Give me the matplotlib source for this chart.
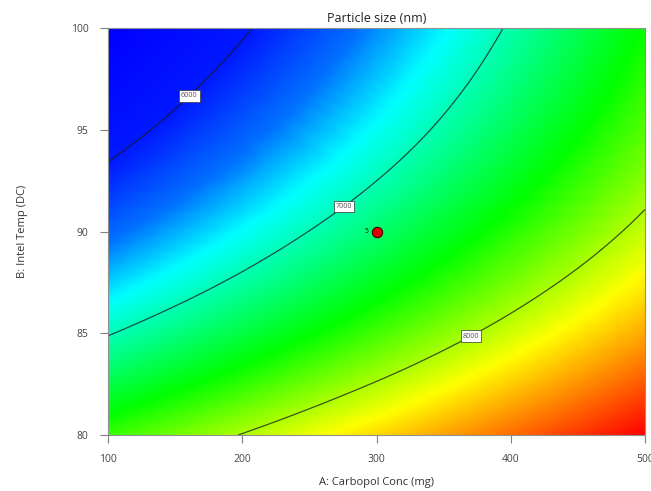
import numpy as np
import matplotlib
matplotlib.use("Agg")
import matplotlib.pyplot as plt
import matplotlib.tri as mtri
from matplotlib.colors import LinearSegmentedColormap

# factor levels
carbopol = [100, 200, 300, 400, 500]        # A: Carbopol Conc (mg)
inlet_temp = [80, 85, 90, 95, 100]          # B: Intel Temp (DC)

# predicted particle size (nm), rows follow inlet_temp, columns follow carbopol
size_nm = [
    [7695, 8010, 8327, 8645, 8966],
    [6983, 7352, 7724, 8097, 8472],
    [6367, 6791, 7217, 7645, 8074],
    [5848, 6327, 6807, 7289, 7773],
    [5426, 5959, 6494, 7031, 7569],
]

contour_levels = [6000, 7000, 8000]
label_spots = [(160, 96.7), (276, 91.2), (370, 84.9)]

# design point at the centre (5 replicates)
design_a = [300]
design_b = [90]
design_reps = [5]

# colour stops by response value
stop_vals = [5426, 6000, 6420, 6780, 7550, 8220, 8966]
stop_cols = ["#0000ff", "#0018ff", "#0070ff", "#00ffff", "#00ff00", "#ffff00", "#ff0000"]

plt.rcParams['font.family'] = ['Open Sans', 'DejaVu Sans']

A, B = np.meshgrid(carbopol, inlet_temp)
Z = np.array(size_nm, dtype=float)
tri = mtri.Triangulation(A.ravel(), B.ravel())
refiner = mtri.UniformTriRefiner(tri)
tri_f, z_f = refiner.refine_field(Z.ravel(), subdiv=5)

lo, hi = stop_vals[0], stop_vals[-1]
cmap = LinearSegmentedColormap.from_list(
    "de", [((v - lo) / (hi - lo), c) for v, c in zip(stop_vals, stop_cols)])

fig = plt.figure(figsize=(6.51, 4.91), dpi=100)
ax = fig.add_axes([0.166, 0.114, 0.825, 0.829])

ax.tripcolor(tri_f, z_f, shading='gouraud', cmap=cmap, vmin=lo, vmax=hi, rasterized=True)
cs = ax.tricontour(tri_f, z_f, levels=contour_levels, colors='#1a1a1a',
                   linewidths=0.9, alpha=0.75)
labels = ax.clabel(cs, fmt='%d', fontsize=5.2, inline=False, manual=label_spots)
for t in labels:
    t.set_bbox(dict(boxstyle='square,pad=0.3', fc='white', ec='#333333', lw=0.5))
    t.set_rotation(0)

ax.scatter(design_a, design_b, s=55, c='#e00000', edgecolors='#400000',
           linewidths=0.8, zorder=5)
for a, b, n in zip(design_a, design_b, design_reps):
    ax.text(a - 6, b, str(n), fontsize=4.8, ha='right', va='center', zorder=5)

ax.set_xlim(100, 500)
ax.set_ylim(80, 100)
ax.set_xticks(carbopol)
ax.set_yticks(inlet_temp)
ax.tick_params(direction='out', length=6, width=0.8, colors='#808080',
               labelcolor='#444444', labelsize=7.5, pad=8)
for s in ax.spines.values():
    s.set_color('#909090')
    s.set_linewidth(0.8)

ax.set_title('Particle size (nm)', fontsize=9, color='#222222', pad=4)
ax.set_xlabel('A: Carbopol Conc (mg)', fontsize=8, color='#333333', labelpad=8)
ax.set_ylabel('B: Intel Temp (DC)', fontsize=8, color='#333333', labelpad=31)

fig.savefig("out.png", dpi=100)
